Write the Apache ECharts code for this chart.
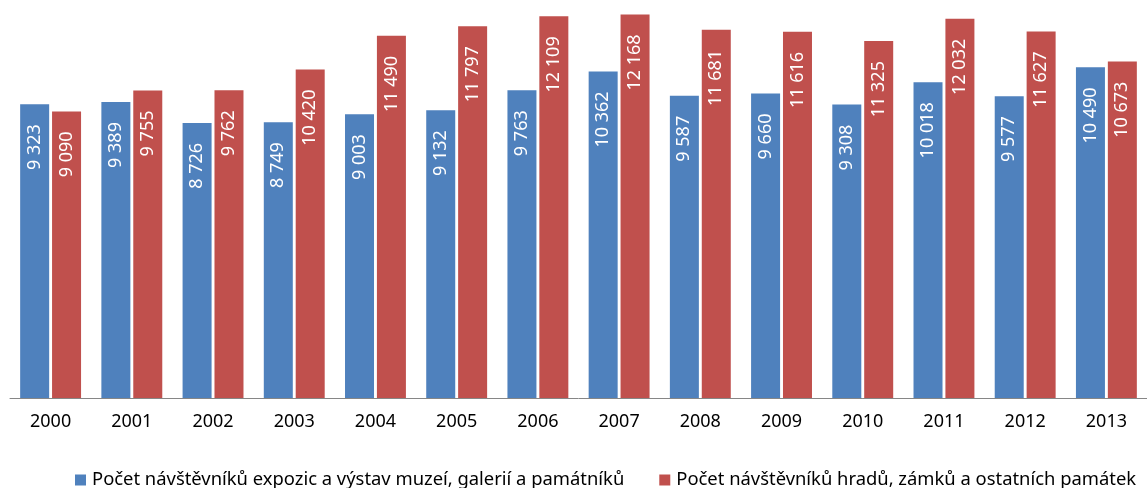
<!DOCTYPE html>
<html>
<head>
<meta charset="utf-8">
<script src="https://cdn.jsdelivr.net/npm/echarts@6/dist/echarts.min.js"></script>
<style>
html, body { margin: 0; padding: 0; background: #fff; }
#main { width: 1147px; height: 488px; }
</style>
</head>
<body>
<div id="main"></div>
<script>
var years = ['2000', '2001', '2002', '2003', '2004', '2005', '2006', '2007', '2008', '2009', '2010', '2011', '2012', '2013'];
var muzea = [9323, 9389, 8726, 8749, 9003, 9132, 9763, 10362, 9587, 9660, 9308, 10018, 9577, 10490];
var pamatky = [9090, 9755, 9762, 10420, 11490, 11797, 12109, 12168, 11681, 11616, 11325, 12032, 11627, 10673];
var names = ['Počet návštěvníků expozic a výstav muzeí, galerií a památníků', 'Počet návštěvníků hradů, zámků a ostatních památek'];

var colors = ['#4F81BD', '#C0504D'];
var font = '"Noto Sans", sans-serif';

var myChart = echarts.init(document.getElementById('main'));

// mezery jako oddělovač tisíců
function fmt(p) {
	return String(p.value).replace(/\B(?=(\d{3})+(?!\d))/g, ' ');
}

var barLabel = {
	show: true,
	position: 'insideTop',
	rotate: 90,
	align: 'right',
	verticalAlign: 'middle',
	distance: 20,
	color: '#fff',
	fontSize: 18,
	fontFamily: font,
	formatter: fmt
};

var option = {
	color: colors,
	animation: false,
	grid: {
		left: 10,
		right: -15,
		top: 4,
		bottom: 90,
		containLabel: false
	},
	legend: {
		top: 471,
		left: 75,
		padding: 0,
		itemWidth: 11,
		itemHeight: 11,
		itemGap: 35,
		icon: 'rect',
		textStyle: {
			fontSize: 18.4,
			fontFamily: font,
			color: '#000',
			padding: [0, 0, 0, 1]
		},
		data: names
	},
	xAxis: {
		type: 'category',
		data: years,
		axisLine: { lineStyle: { color: '#868686' } },
		axisTick: { length: 5, lineStyle: { color: '#868686' } },
		axisLabel: { color: '#000', fontSize: 18, fontFamily: font, margin: 15 }
	},
	yAxis: {
		type: 'value',
		min: 0,
		max: 12500,
		show: false,
		splitLine: { show: false }
	},
	series: [{
			name: names[0],
			type: 'bar',
			barWidth: 29,
			barGap: '10%',
			label: barLabel,
			data: muzea
		},
		{
			name: names[1],
			type: 'bar',
			barWidth: 29,
			barGap: '10%',
			label: barLabel,
			data: pamatky
		}
	]
};

myChart.setOption(option);
</script>
</body>
</html>
